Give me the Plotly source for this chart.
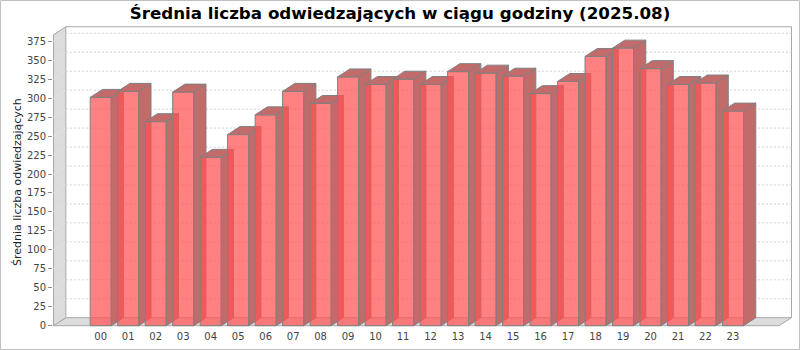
import plotly.graph_objects as go

# ---- data ----
hours = ["00", "01", "02", "03", "04", "05", "06", "07", "08", "09", "10", "11",
         "12", "13", "14", "15", "16", "17", "18", "19", "20", "21", "22", "23"]
visitors = [301, 309, 269, 308, 222, 252, 278, 309, 293, 328, 318, 325,
            318, 335, 333, 329, 306, 322, 355, 366, 339, 318, 320, 283]
y_ticks = [0, 25, 50, 75, 100, 125, 150, 175, 200, 225, 250, 275, 300, 325, 350, 375]

title = "Średnia liczba odwiedzających w ciągu godziny (2025.08)"
y_title = "Średnia liczba odwiedzających"

# ---- geometry / style ----
W, H = 800, 350
ML, MR, MT, MB = 53, 7, 26, 23
PW, PH = W - ML - MR, H - MT - MB
PX_X = 27.49          # px per category
PX_Y = 0.7584         # px per unit
X0 = -1.735           # category coordinate at plot left edge
Y0 = -1.71            # value at plot bottom edge
X1 = X0 + PW / PX_X
Y1 = Y0 + PH / PX_Y
DX = 12.3 / PX_X      # 3D depth offset in category units
DY = 8.0 / PX_Y       # 3D depth offset in value units
HALF = 0.382          # half bar width (category units)

xL = X0 + 0.5 / PX_X           # front-left edge of the scene
xR = X1 - 1.5 / PX_X           # back-right edge of the scene
yTop = 394.2                   # back wall top (value units)

EDGE = "#A8A8A8"
WALL = "#DCDCDC"
BAR_EDGE = "#808080"
SIDE = "#C16B6B"
FRONT = "rgba(255,82,82,0.73)"
GRID = "#D0D0D0"


def path(pts):
    return "M " + " L ".join(f"{x:.5f},{y:.5f}" for x, y in pts) + " Z"


shapes = []
# back wall outline (top and right edges)
shapes.append(dict(type="path", xref="x", yref="y", layer="below",
                   path=f"M {xL+DX},{yTop} L {xR},{yTop} L {xR},{DY}",
                   line=dict(color=EDGE, width=1)))
# floor
shapes.append(dict(type="path", xref="x", yref="y", layer="below",
                   path=path([(xL, 0), (xL + DX, DY), (xR, DY), (xR - DX, 0)]),
                   fillcolor=WALL, line=dict(color=EDGE, width=1)))
# left wall
shapes.append(dict(type="path", xref="x", yref="y", layer="below",
                   path=path([(xL, 0), (xL, yTop - DY), (xL + DX, yTop), (xL + DX, DY)]),
                   fillcolor=WALL, line=dict(color=EDGE, width=1)))
# gridlines on back wall and left wall
for t in y_ticks[1:]:
    shapes.append(dict(type="line", xref="x", yref="y", layer="below",
                       x0=xL + DX, x1=xR, y0=t + DY, y1=t + DY,
                       line=dict(color=GRID, width=1, dash="2px,2px")))
    shapes.append(dict(type="line", xref="x", yref="y", layer="below",
                       x0=xL, x1=xL + DX, y0=t, y1=t + DY,
                       line=dict(color="#E8E8E8", width=1, dash="2px,2px")))
# bar side & top faces
for i, v in enumerate(visitors):
    l, r = i - HALF, i + HALF
    shapes.append(dict(type="path", xref="x", yref="y", layer="below",
                       path=path([(r, 0), (r + DX, DY), (r + DX, v + DY), (r, v)]),
                       fillcolor=SIDE, line=dict(color=BAR_EDGE, width=1)))
    shapes.append(dict(type="path", xref="x", yref="y", layer="below",
                       path=path([(l, v), (l + DX, v + DY), (r + DX, v + DY), (r, v)]),
                       fillcolor=SIDE, line=dict(color=BAR_EDGE, width=1)))

# outer border
shapes.append(dict(type="rect", xref="paper", yref="paper", layer="above",
                   x0=(0.5 - ML) / PW, x1=(W - 0.5 - ML) / PW,
                   y0=(0.5 - MB) / PH, y1=(H - 0.5 - MB) / PH,
                   line=dict(color="#C0C0C0", width=1)))

fig = go.Figure()
fig.add_trace(go.Bar(
    x=list(range(len(hours))), y=visitors, width=2 * HALF,
    marker=dict(color=FRONT, line=dict(color=BAR_EDGE, width=1)),
    hoverinfo="skip", showlegend=False,
))

fig.update_layout(
    width=W, height=H, autosize=False,
    margin=dict(l=ML, r=MR, t=MT, b=MB, pad=0),
    paper_bgcolor="white", plot_bgcolor="white",
    shapes=shapes,
    title=dict(text=f"<b>{title}</b>", x=0.5, xref="container", xanchor="center",
               y=1 - 13 / H, yref="container", yanchor="middle",
               font=dict(family="DejaVu Sans", size=16.7, color="#000000")),
    xaxis=dict(range=[X0, X1], tickmode="array",
               tickvals=list(range(len(hours))), ticktext=hours,
               showgrid=False, zeroline=False, showline=False, ticks="",
               ticklabelstandoff=2,
               tickfont=dict(family="DejaVu Sans", size=10, color="#444444"),
               fixedrange=True),
    yaxis=dict(range=[Y0, Y1], tickmode="array", tickvals=y_ticks,
               showgrid=False, zeroline=False, showline=False,
               ticks="outside", ticklen=4, tickcolor="#909090",
               tickfont=dict(family="DejaVu Sans", size=10, color="#444444"),
               fixedrange=True),
    annotations=[dict(text=y_title, xref="paper", yref="paper",
                      x=(17 - ML) / PW, y=(H - MB - 182) / PH,
                      xanchor="center", yanchor="middle", textangle=-90,
                      showarrow=False,
                      font=dict(family="DejaVu Sans", size=11, color="#222222"))],
)

fig.write_html("out.html")
